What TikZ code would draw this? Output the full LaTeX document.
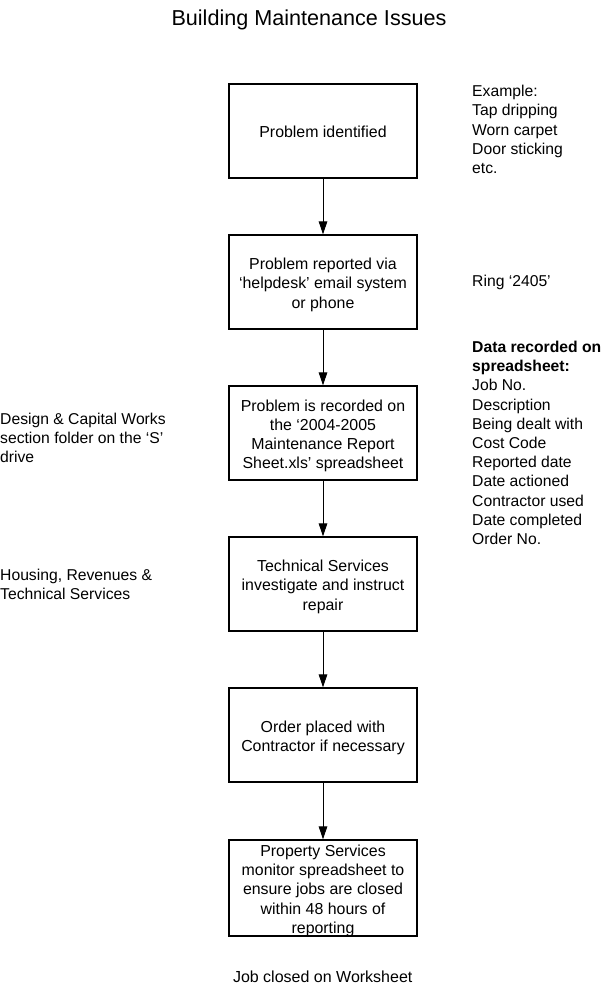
\documentclass[tikz,border=0pt]{standalone}
\usepackage{fontspec}
\setmainfont{Liberation Sans}
\usetikzlibrary{arrows.meta}
\newcommand\boxlines[1]{\raisebox{-3pt}[\height][\depth]{\begin{tabular}{@{}c@{}}#1\end{tabular}}}
\tikzset{
  stepbox/.style={draw=black, line width=1.2pt, minimum width=188pt, minimum height=94pt,
    inner sep=0pt, font=\fontsize{15.9}{19.2}\selectfont},
  note/.style={anchor=base west, align=left, inner sep=0pt,
    font=\fontsize{15.7}{19.2}\selectfont},
  flow/.style={line width=1pt, -{Triangle[length=13pt,width=8.5pt]}}
}
\begin{document}
\begin{tikzpicture}[x=1pt,y=-1pt]
\useasboundingbox (0,0) rectangle (603,987);
\node[anchor=base, inner sep=0pt, font=\fontsize{21.6}{26}\selectfont] (title) at (309,25.5) {Building Maintenance Issues};

\node[stepbox] (b1) at (323,131) {\boxlines{Problem identified}};
\node[stepbox] (b2) at (323,282) {\boxlines{Problem reported via\\‘helpdesk’ email system\\or phone}};
\node[stepbox] (b3) at (323,433) {\boxlines{Problem is recorded on\\the ‘2004-2005\\Maintenance Report\\Sheet.xls’ spreadsheet}};
\node[stepbox] (b4) at (323,584) {\boxlines{Technical Services\\investigate and instruct\\repair}};
\node[stepbox] (b5) at (323,735) {\boxlines{Order placed with\\Contractor if necessary}};
\node[stepbox] (b6) at (323,888) {\boxlines{Property Services\\monitor spreadsheet to\\ensure jobs are closed\\within 48 hours of\\reporting}};

\draw[flow] (b1.south) -- (b2.north);
\draw[flow] (b2.south) -- (b3.north);
\draw[flow] (b3.south) -- (b4.north);
\draw[flow] (b4.south) -- (b5.north);
\draw[flow] (b5.south) -- (b6.north);

% base anchor of a multi-line node is the baseline of its last line
\node[note] (ex) at (472,173.5) {Example:\\Tap dripping\\Worn carpet\\Door sticking\\etc.};
\node[note] (ring) at (472,286) {Ring ‘2405’};
\node[note] (data) at (472,544.5) {\textbf{Data recorded on}\\\textbf{spreadsheet:}\\Job No.\\Description\\Being dealt with\\Cost Code\\Reported date\\Date actioned\\Contractor used\\Date completed\\Order No.};
\node[note] (design) at (0,462.4) {Design \& Capital Works\\section folder on the ‘S’\\drive};
\node[note] (housing) at (0,599.9) {Housing, Revenues \&\\Technical Services};
\node[anchor=base, inner sep=0pt, font=\fontsize{16}{19.2}\selectfont] (closed) at (322.7,982) {Job closed on Worksheet};
\end{tikzpicture}
\end{document}
